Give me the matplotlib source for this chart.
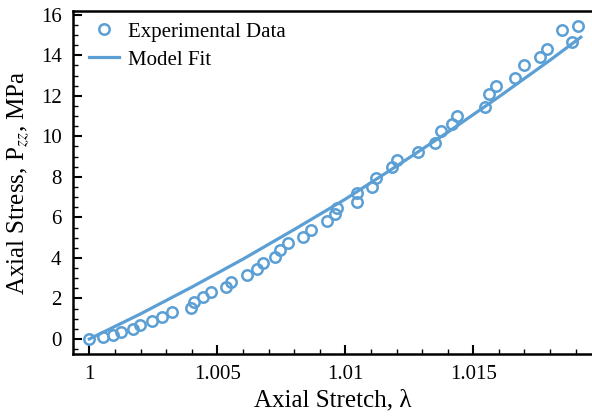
import matplotlib
matplotlib.use('Agg')
import matplotlib.pyplot as plt
from matplotlib.ticker import MultipleLocator, AutoMinorLocator

plt.rcParams['font.family'] = ['Liberation Serif', 'DejaVu Serif']
plt.rcParams['mathtext.fontset'] = 'stix'

# experimental points
stretch = [1.00000, 1.00052, 1.00094, 1.00124, 1.00170, 1.00198, 1.00245, 1.00283,
           1.00324, 1.00397, 1.00410, 1.00445, 1.00474, 1.00534, 1.00552, 1.00615,
           1.00654, 1.00680, 1.00725, 1.00745, 1.00775, 1.00833, 1.00865, 1.00927,
           1.00960, 1.00966, 1.01047, 1.01047, 1.01103, 1.01120, 1.01184, 1.01201,
           1.01285, 1.01350, 1.01374, 1.01416, 1.01438, 1.01546, 1.01563, 1.01589,
           1.01663, 1.01698, 1.01761, 1.01787, 1.01845, 1.01884, 1.01908]
stress = [0.00, 0.08, 0.20, 0.36, 0.51, 0.68, 0.89, 1.10,
          1.35, 1.54, 1.81, 2.06, 2.32, 2.58, 2.81, 3.16,
          3.44, 3.73, 4.06, 4.39, 4.75, 5.05, 5.40, 5.84,
          6.15, 6.45, 6.77, 7.22, 7.51, 7.93, 8.47, 8.83,
          9.24, 9.67, 10.26, 10.61, 11.02, 11.43, 12.07, 12.48,
          12.89, 13.52, 13.93, 14.29, 15.24, 14.67, 15.46]

# model fit curve, read at a few stretches
fit_stretch = [1.000, 1.002, 1.004, 1.006, 1.008, 1.010, 1.012, 1.014, 1.016, 1.018, 1.0192]
fit_stress = [0.00, 1.24, 2.56, 3.94, 5.40, 6.90, 8.53, 10.20, 11.95, 13.76, 14.89]

blue = '#5b9fd4'

fig = plt.figure(figsize=(5.92, 4.19), dpi=100)
ax = fig.add_axes([0.1228, 0.1551, 0.8772, 0.8194])

ax.plot(stretch, stress, 'o', mfc='none', mec=blue, mew=1.8, ms=7.5,
        label='Experimental Data')
ax.plot(fit_stretch, fit_stress, '-', color=blue, lw=2.3, label='Model Fit')

ax.set_xlim(0.99935, 1.019637)
ax.set_ylim(-0.74, 16.2)

ax.xaxis.set_major_locator(MultipleLocator(0.005))
ax.xaxis.set_minor_locator(AutoMinorLocator(5))
ax.yaxis.set_major_locator(MultipleLocator(2))
ax.yaxis.set_minor_locator(AutoMinorLocator(4))
ax.set_xticks([1, 1.005, 1.01, 1.015])
ax.set_xticklabels(['1', '1.005', '1.01', '1.015'])

ax.tick_params(which='both', direction='in', top=False, right=False, labelsize=15)
ax.tick_params(which='major', length=6.5, width=1.5, pad=8)
ax.tick_params(which='minor', length=3.3, width=1.0)
for s in ['left', 'bottom', 'top']:
    ax.spines[s].set_linewidth(1.8)
ax.spines['right'].set_visible(False)

ax.set_xlabel(r'Axial Stretch, λ', fontsize=18, labelpad=4)
ax.set_ylabel(r'Axial Stress, P$_{zz}$, MPa', fontsize=18, labelpad=6)

ax.legend(loc='upper left', bbox_to_anchor=(0.01, 1.0), frameon=False,
          fontsize=15, numpoints=1, handlelength=1.4, handletextpad=0.45,
          labelspacing=0.4, borderaxespad=0.15)

fig.savefig('out.png', dpi=100)
